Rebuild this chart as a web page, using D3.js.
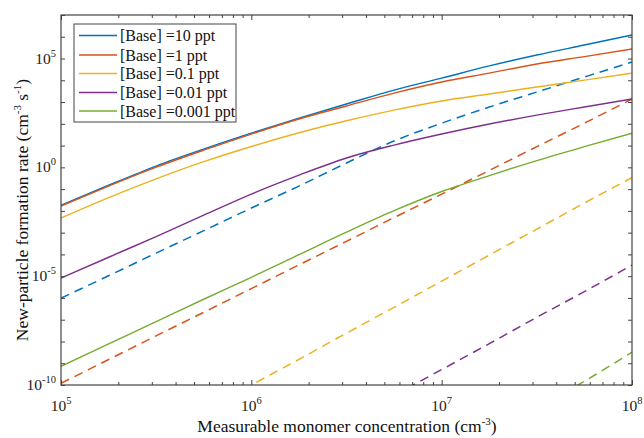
<!DOCTYPE html>
<html><head><meta charset="utf-8">
<script src="https://cdn.jsdelivr.net/npm/d3@7"></script>
<style>html,body{margin:0;padding:0;background:#fff;}svg{display:block;font-family:"Liberation Serif","Times New Roman",serif;}</style>
</head><body>
<svg id="chart" width="644" height="438"></svg>
<script>
// Measurable monomer concentration (cm^-3)
const conc = [1e5, 1.78e5, 3.16e5, 5.62e5, 1e6, 1.78e6, 3.16e6, 5.62e6, 1e7, 1.78e7, 3.16e7, 5.62e7, 1e8];

// solid lines (one per base level)
const solid10   = [1.82e-2, 1.51e-1, 1.15, 6.92, 37.2, 182, 813, 3.55e3, 1.26e4, 4.57e4, 1.45e5, 4.17e5, 1.20e6];
const solid1    = [1.66e-2, 1.38e-1, 1.02, 6.17, 33.9, 166, 661, 2.57e3, 8.32e3, 2.14e4, 5.62e4, 1.23e5, 2.75e5];
const solid01   = [4.68e-3, 4.07e-2, 2.95e-1, 1.82, 9.12, 38.9, 138, 427, 1.12e3, 2.34e3, 4.90e3, 1.02e4, 2.14e4];
const solid001  = [8.13e-6, 7.41e-5, 6.61e-4, 6.31e-3, 5.89e-2, 4.37e-1, 2.69, 10.5, 33.9, 97.7, 251, 589, 1.38e3];
const solid0001 = [7.24e-10, 7.76e-9, 8.13e-8, 8.71e-7, 8.91e-6, 9.77e-5, 1.05e-3, 1.02e-2, 7.76e-2, 4.17e-1, 2.04, 8.91, 37.2];

// dashed lines (values start at index given in dashStart)
const dashed10   = [9.77e-7, 1.05e-5, 1.15e-4, 1.23e-3, 1.35e-2, 1.38e-1, 1.58, 16.2, 107, 589, 2.88e3, 1.41e4, 6.92e4];
const dashed1    = [1.20e-10, 1.48e-9, 1.82e-8, 2.19e-7, 2.69e-6, 3.31e-5, 3.98e-4, 4.90e-3, 5.89e-2, 7.24e-1, 8.91, 107, 1.38e3];
const dashed01   = [6.31e-12, 1.0e-10, 1.51e-9, 2.40e-8, 3.72e-7, 5.89e-6, 9.33e-5, 1.45e-3, 2.29e-2, 3.39e-1];
const dashed001  = [3.31e-11, 5.13e-10, 7.94e-9, 1.29e-7, 1.95e-6, 3.24e-5];
const dashed0001 = [8.51e-12, 1.48e-10, 3.24e-9];
const dashStart  = [0, 0, 3, 7, 10];

const seriesNames = ["[Base] =10 ppt", "[Base] =1 ppt", "[Base] =0.1 ppt", "[Base] =0.01 ppt", "[Base] =0.001 ppt"];
const colors = ["#0072BD", "#D95319", "#EDB120", "#7E2F8E", "#77AC30"];

const xTickExps = [5, 6, 7, 8];
const yTickExps = [-10, -5, 0, 5];

const svg = d3.select("#chart");
const L = 61, R = 632, T = 15, B = 385;
const x = d3.scaleLog().domain([1e5, 1e8]).range([L, R]);
const y = d3.scaleLog().domain([1e-10, 1e7]).range([B, T]);

svg.append("defs").append("clipPath").attr("id", "clip")
  .append("rect").attr("x", L).attr("y", T).attr("width", R - L).attr("height", B - T);

const solids = [solid10, solid1, solid01, solid001, solid0001];
const dashes = [dashed10, dashed1, dashed01, dashed001, dashed0001];

const line = d3.line().x(d => x(d[0])).y(d => y(d[1])).curve(d3.curveMonotoneX);
const g = svg.append("g").attr("clip-path", "url(#clip)");

dashes.forEach((arr, i) => {
  const pts = arr.map((v, j) => [conc[j + dashStart[i]], v]);
  g.append("path").attr("d", line(pts)).attr("fill", "none")
    .attr("stroke", colors[i]).attr("stroke-width", 1.5).attr("stroke-dasharray", "9,6");
});
solids.forEach((arr, i) => {
  const pts = arr.map((v, j) => [conc[j], v]);
  g.append("path").attr("d", line(pts)).attr("fill", "none")
    .attr("stroke", colors[i]).attr("stroke-width", 1.4);
});

// ticks
const axisColor = "#444";
const xMajor = xTickExps.map(e => Math.pow(10, e));
const xMinor = [];
for (let e = 5; e < 8; e++) for (let m = 2; m <= 9; m++) xMinor.push(m * Math.pow(10, e));
const yTicks = d3.range(-10, 8).map(e => Math.pow(10, e));

function styleAxis(sel) {
  sel.select(".domain").remove();
  sel.selectAll("line").attr("stroke", axisColor);
  sel.selectAll("text").remove();
}
svg.append("g").attr("transform", `translate(0,${B})`).call(d3.axisTop(x).tickValues(xMajor).tickSize(5)).call(styleAxis);
svg.append("g").attr("transform", `translate(0,${B})`).call(d3.axisTop(x).tickValues(xMinor).tickSize(3)).call(styleAxis);
svg.append("g").attr("transform", `translate(0,${T})`).call(d3.axisBottom(x).tickValues(xMajor).tickSize(5)).call(styleAxis);
svg.append("g").attr("transform", `translate(0,${T})`).call(d3.axisBottom(x).tickValues(xMinor).tickSize(3)).call(styleAxis);
svg.append("g").attr("transform", `translate(${L},0)`).call(d3.axisRight(y).tickValues(yTicks).tickSize(4)).call(styleAxis);
svg.append("g").attr("transform", `translate(${R},0)`).call(d3.axisLeft(y).tickValues(yTicks).tickSize(4)).call(styleAxis);

svg.append("rect").attr("x", L).attr("y", T).attr("width", R - L).attr("height", B - T)
  .attr("fill", "none").attr("stroke", axisColor).attr("stroke-width", 1.2);

// tick labels
const lblColor = "#222";
xTickExps.forEach(e => {
  const t = svg.append("text").attr("x", x(Math.pow(10, e))).attr("y", 411)
    .attr("text-anchor", "middle").attr("font-size", 15.5).attr("fill", lblColor);
  t.append("tspan").text("10");
  t.append("tspan").attr("dy", -7).attr("font-size", 10.5).text(String(e));
});
yTickExps.forEach(e => {
  const t = svg.append("text").attr("x", 56).attr("y", y(Math.pow(10, e)) + 5)
    .attr("text-anchor", "end").attr("font-size", 15.5).attr("fill", lblColor);
  t.append("tspan").text("10");
  t.append("tspan").attr("dy", -7).attr("font-size", 10.5).text(String(e));
});

// axis titles
const xt = svg.append("text").attr("x", 347).attr("y", 432).attr("text-anchor", "middle")
  .attr("font-size", 17.5).attr("fill", "#111");
xt.append("tspan").text("Measurable monomer concentration (cm");
xt.append("tspan").attr("dy", -7).attr("font-size", 11).text("-3");
xt.append("tspan").attr("dy", 7).text(")");

const yt = svg.append("text").attr("transform", "translate(28,210) rotate(-90)").attr("text-anchor", "middle")
  .attr("font-size", 17.5).attr("fill", "#111");
yt.append("tspan").text("New-particle formation rate (cm");
yt.append("tspan").attr("dy", -7).attr("font-size", 11).text("-3");
yt.append("tspan").attr("dy", 7).text(" s");
yt.append("tspan").attr("dy", -7).attr("font-size", 11).text("-1");
yt.append("tspan").attr("dy", 7).text(")");

// legend
const lg = svg.append("g");
lg.append("rect").attr("x", 74).attr("y", 24).attr("width", 162).attr("height", 98)
  .attr("fill", "#fff").attr("stroke", axisColor).attr("stroke-width", 1);
const rowY = [35.5, 55, 73.5, 92.5, 111];
seriesNames.forEach((n, i) => {
  lg.append("line").attr("x1", 79).attr("x2", 117).attr("y1", rowY[i]).attr("y2", rowY[i])
    .attr("stroke", colors[i]).attr("stroke-width", 1.4);
  lg.append("text").attr("x", 120).attr("y", rowY[i] + 5.5).attr("font-size", 16).attr("fill", "#111").text(n);
});
</script>
</body></html>
